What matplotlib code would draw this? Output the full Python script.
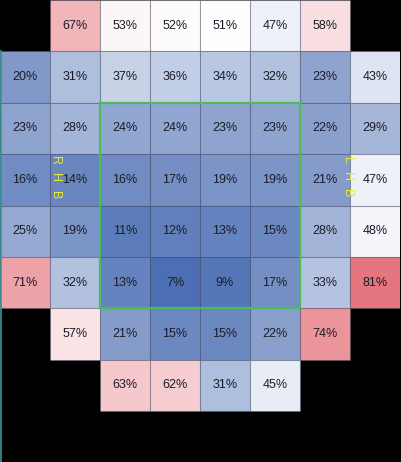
import numpy as np
import matplotlib.pyplot as plt
from matplotlib.colors import LinearSegmentedColormap, TwoSlopeNorm
from matplotlib.patches import Rectangle

plt.rcParams['font.family'] = ['Liberation Sans', 'DejaVu Sans']

# percentage per zone, rows top to bottom, None = no zone
row0 = [None, 67, 53, 52, 51, 47, 58, None]
row1 = [20, 31, 37, 36, 34, 32, 23, 43]
row2 = [23, 28, 24, 24, 23, 23, 22, 29]
row3 = [16, 14, 16, 17, 19, 19, 21, 47]
row4 = [25, 19, 11, 12, 13, 15, 28, 48]
row5 = [71, 32, 13, 7, 9, 17, 33, 81]
row6 = [None, 57, 21, 15, 15, 22, 74, None]
row7 = [None, None, 63, 62, 31, 45, None, None]
rows = [row0, row1, row2, row3, row4, row5, row6, row7]

side_left = "RHB"
side_right = "LHB"

cmap = LinearSegmentedColormap.from_list(
    "zones", [(0.27, 0.41, 0.69), (1.0, 1.0, 1.0), (0.88, 0.37, 0.41)])
norm = TwoSlopeNorm(vmin=5, vcenter=51, vmax=86)

fig = plt.figure(figsize=(4.01, 4.62), dpi=100)
fig.patch.set_facecolor("black")
ax = fig.add_axes([0, 0, 400 / 401, 1])
ax.set_facecolor("black")

for r, row in enumerate(rows):
    for c, v in enumerate(row):
        if v is None:
            continue
        ax.add_patch(Rectangle((c, r), 1, 1, facecolor=cmap(norm(v)),
                               edgecolor=(0.3, 0.33, 0.45, 0.3), linewidth=0.8))
        ax.text(c + 0.5, r + 0.5, f"{v}%", ha="center", va="center",
                fontsize=9, color="#1c1c28")

# strike zone box
ax.add_patch(Rectangle((2, 2), 4, 4, fill=False, edgecolor="#4cbb5a", linewidth=1.6))

# batter side labels
for i, ch in enumerate(side_left):
    ax.text(1.1, 3.12 + i * 0.34, ch, rotation=-90, ha="center", va="center",
            fontsize=9, color="#e8e83c")
for i, ch in enumerate(side_right):
    ax.text(6.94, 3.12 + i * 0.32, ch, rotation=-90, ha="center", va="center",
            fontsize=9, color="#e8e83c")

ax.plot([0.01, 0.01], [1, 9], color="#3c9696", linewidth=1.2)

ax.set_xlim(0, 8)
ax.set_ylim(462 / 51.375, 0)
ax.axis("off")

fig.savefig("out.png", dpi=100, facecolor="black")
